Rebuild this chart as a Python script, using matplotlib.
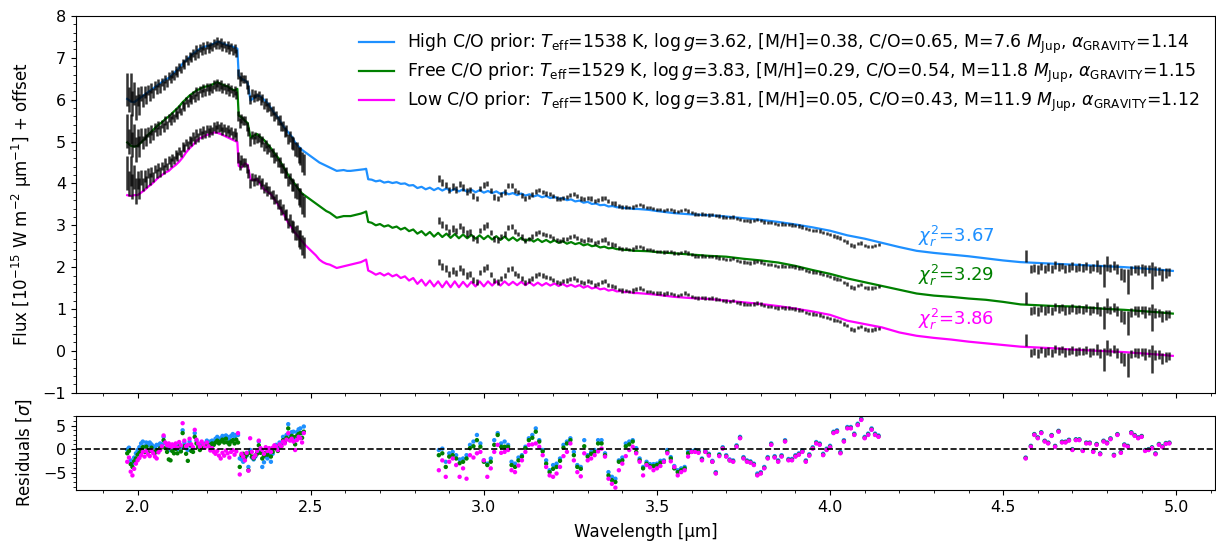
import numpy as np
import matplotlib
matplotlib.use('Agg')
import matplotlib.pyplot as plt
from matplotlib.ticker import MultipleLocator

plt.rcParams['font.size'] = 12
plt.rcParams['xtick.labelsize'] = 11.5
plt.rcParams['ytick.labelsize'] = 11.5

# model spectra (flux in 1e-15 W m-2 um-1, no offset)
wl_model = [1.970, 1.980, 1.990, 2.000, 2.010, 2.020, 2.030, 2.040, 2.050, 2.060,
            2.070, 2.080, 2.090, 2.100, 2.110, 2.120, 2.130, 2.140, 2.150, 2.160,
            2.170, 2.180, 2.190, 2.200, 2.210, 2.220, 2.230, 2.240, 2.250, 2.260,
            2.270, 2.280, 2.288,
            2.292, 2.300, 2.310, 2.318, 2.326, 2.335, 2.345, 2.355, 2.365, 2.375,
            2.385, 2.395, 2.405, 2.415, 2.425, 2.435, 2.445, 2.455, 2.465, 2.475,
            2.485, 2.495, 2.505, 2.515, 2.525, 2.535, 2.545, 2.555, 2.565, 2.575,
            2.585, 2.595, 2.605, 2.615, 2.625, 2.635, 2.645, 2.655, 2.660, 2.666,
            2.676, 2.688, 2.700, 2.712, 2.724, 2.736, 2.748, 2.760, 2.772, 2.784,
            2.796, 2.808, 2.820, 2.832, 2.844, 2.856, 2.868, 2.880, 2.892, 2.904,
            2.916, 2.928, 2.940, 2.952, 2.964, 2.976, 2.988, 3.000, 3.012, 3.024,
            3.036, 3.048, 3.060, 3.072, 3.084, 3.096, 3.108, 3.120, 3.132, 3.144,
            3.156, 3.168, 3.180, 3.192, 3.204, 3.216, 3.228, 3.240, 3.252, 3.264,
            3.276, 3.288, 3.300, 3.312, 3.324, 3.336, 3.348, 3.360, 3.372, 3.384,
            3.396, 3.408, 3.420, 3.432, 3.444,
            3.475, 3.500, 3.550, 3.600, 3.650, 3.700, 3.750, 3.800, 3.850, 3.900,
            3.950, 4.000, 4.050, 4.100, 4.150, 4.200, 4.250, 4.300, 4.350, 4.400,
            4.450, 4.500, 4.550, 4.600, 4.650, 4.700, 4.750, 4.800, 4.850, 4.900,
            4.950, 4.990]

model_high = [4.02, 3.96, 3.94, 4.00, 4.06, 4.12, 4.18, 4.24, 4.30, 4.36,
              4.42, 4.48, 4.52, 4.60, 4.68, 4.76, 4.86, 4.94, 5.02, 5.10,
              5.16, 5.22, 5.26, 5.28, 5.30, 5.34, 5.39, 5.36, 5.33, 5.30,
              5.28, 5.25, 5.22,
              4.58, 4.50, 4.46, 4.40, 3.98, 4.04, 4.10, 4.08, 4.00, 3.92,
              3.80, 3.68, 3.58, 3.44, 3.32, 3.22, 3.12, 2.98, 2.88, 2.80,
              2.74, 2.68, 2.62, 2.56, 2.50, 2.46, 2.42, 2.38, 2.34, 2.30,
              2.31, 2.32, 2.30, 2.30, 2.31, 2.32, 2.33, 2.34, 2.35, 2.10,
              2.09, 2.05, 2.07, 2.02, 2.04, 2.01, 2.03, 1.99, 2.00, 1.95,
              1.96, 1.89, 1.92, 1.86, 1.90, 1.84, 1.89, 1.83, 1.88, 1.82,
              1.87, 1.81, 1.86, 1.80, 1.85, 1.79, 1.84, 1.78, 1.82, 1.77,
              1.81, 1.75, 1.79, 1.74, 1.77, 1.72, 1.76, 1.71, 1.74, 1.69,
              1.72, 1.67, 1.70, 1.65, 1.68, 1.63, 1.65, 1.60, 1.62, 1.57,
              1.59, 1.54, 1.56, 1.51, 1.52, 1.48, 1.49, 1.45, 1.46, 1.43,
              1.43, 1.41, 1.41, 1.39, 1.39,
              1.37, 1.34, 1.29, 1.26, 1.24, 1.21, 1.17, 1.13, 1.08, 1.02,
              0.95, 0.87, 0.76, 0.68, 0.58, 0.48, 0.39, 0.34, 0.30, 0.26,
              0.21, 0.16, 0.12, 0.10, 0.08, 0.06, 0.04, 0.02, 0.00, -0.03,
              -0.06, -0.09]

model_free = [3.98, 3.90, 3.88, 3.90, 3.98, 4.06, 4.16, 4.24, 4.32, 4.40,
              4.46, 4.54, 4.60, 4.68, 4.76, 4.84, 4.94, 5.02, 5.10, 5.16,
              5.22, 5.26, 5.30, 5.32, 5.34, 5.38, 5.42, 5.38, 5.34, 5.32,
              5.26, 5.22, 5.26,
              4.62, 4.58, 4.50, 4.44, 4.10, 4.14, 4.18, 4.10, 4.04, 3.94,
              3.84, 3.72, 3.62, 3.48, 3.34, 3.20, 3.08, 2.98, 2.86, 2.76,
              2.70, 2.64, 2.58, 2.52, 2.46, 2.40, 2.34, 2.30, 2.24, 2.18,
              2.20, 2.22, 2.22, 2.22, 2.24, 2.26, 2.28, 2.31, 2.33, 2.08,
              2.06, 2.00, 2.03, 1.97, 2.00, 1.94, 1.97, 1.90, 1.94, 1.86,
              1.90, 1.80, 1.86, 1.76, 1.84, 1.73, 1.82, 1.72, 1.80, 1.70,
              1.79, 1.69, 1.78, 1.69, 1.77, 1.68, 1.76, 1.67, 1.75, 1.66,
              1.74, 1.65, 1.73, 1.64, 1.71, 1.63, 1.70, 1.62, 1.68, 1.61,
              1.67, 1.60, 1.65, 1.59, 1.64, 1.58, 1.62, 1.56, 1.60, 1.55,
              1.58, 1.52, 1.55, 1.50, 1.52, 1.47, 1.49, 1.45, 1.46, 1.43,
              1.43, 1.41, 1.41, 1.39, 1.39,
              1.38, 1.36, 1.33, 1.30, 1.27, 1.25, 1.20, 1.16, 1.11, 1.03,
              0.93, 0.84, 0.73, 0.64, 0.55, 0.46, 0.37, 0.32, 0.29, 0.25,
              0.22, 0.17, 0.11, 0.09, 0.07, 0.06, 0.03, 0.00, -0.02, -0.05,
              -0.08, -0.11]

model_low = [3.72, 3.70, 3.72, 3.72, 3.78, 3.84, 3.92, 3.98, 4.06, 4.14,
             4.20, 4.26, 4.30, 4.38, 4.44, 4.52, 4.62, 4.74, 4.84, 4.92,
             5.02, 5.08, 5.12, 5.16, 5.18, 5.22, 5.21, 5.18, 5.14, 5.10,
             5.06, 5.02, 4.99,
             4.42, 4.38, 4.48, 4.44, 4.10, 4.08, 4.10, 3.98, 3.86, 3.80,
             3.74, 3.62, 3.50, 3.36, 3.22, 3.06, 2.94, 2.82, 2.72, 2.62,
             2.52, 2.44, 2.36, 2.28, 2.18, 2.12, 2.08, 2.06, 2.02, 1.98,
             2.00, 2.02, 2.04, 2.06, 2.08, 2.10, 2.12, 2.16, 2.18, 1.92,
             1.88, 1.82, 1.86, 1.80, 1.85, 1.78, 1.82, 1.74, 1.78, 1.68,
             1.74, 1.60, 1.70, 1.56, 1.68, 1.54, 1.66, 1.52, 1.66, 1.52,
             1.66, 1.52, 1.65, 1.53, 1.65, 1.54, 1.66, 1.54, 1.66, 1.56,
             1.66, 1.56, 1.66, 1.57, 1.65, 1.57, 1.65, 1.57, 1.64, 1.56,
             1.63, 1.56, 1.62, 1.56, 1.61, 1.55, 1.60, 1.54, 1.58, 1.53,
             1.57, 1.51, 1.55, 1.49, 1.52, 1.47, 1.49, 1.44, 1.46, 1.42,
             1.43, 1.40, 1.41, 1.38, 1.38,
             1.36, 1.34, 1.29, 1.26, 1.24, 1.20, 1.16, 1.12, 1.07, 1.01,
             0.94, 0.86, 0.72, 0.64, 0.56, 0.44, 0.36, 0.31, 0.27, 0.22,
             0.18, 0.14, 0.10, 0.08, 0.06, 0.03, 0.01, -0.01, -0.03, -0.06,
             -0.09, -0.12]

# K band data (GRAVITY)
wl_k = [1.970, 1.975, 1.980, 1.985, 1.990, 1.995, 2.000, 2.005, 2.010, 2.015,
        2.020, 2.025, 2.030, 2.035, 2.040, 2.045, 2.050, 2.055, 2.060, 2.065,
        2.070, 2.075, 2.080, 2.085, 2.090, 2.095, 2.100, 2.105, 2.110, 2.115,
        2.120, 2.125, 2.130, 2.135, 2.140, 2.145, 2.150, 2.155, 2.160, 2.165,
        2.170, 2.175, 2.180, 2.185, 2.190, 2.195, 2.200, 2.205, 2.210, 2.215,
        2.220, 2.225, 2.230, 2.235, 2.240, 2.245, 2.250, 2.255, 2.260, 2.265,
        2.270, 2.275, 2.280, 2.285, 2.290, 2.295, 2.300, 2.305, 2.310, 2.315,
        2.320, 2.325, 2.330, 2.335, 2.340, 2.345, 2.350, 2.355, 2.360, 2.365,
        2.370, 2.375, 2.380, 2.385, 2.390, 2.395, 2.400, 2.405, 2.410, 2.415,
        2.420, 2.425, 2.430, 2.435, 2.440, 2.445, 2.450, 2.455, 2.460, 2.465,
        2.470, 2.475, 2.480]
flux_k = [4.25, 4.00, 4.30, 3.92, 4.15, 3.82, 4.08, 3.88, 4.14, 3.98,
          4.18, 4.04, 4.24, 4.10, 4.28, 4.16, 4.34, 4.24, 4.40, 4.28,
          4.42, 4.34, 4.50, 4.40, 4.56, 4.50, 4.62, 4.56, 4.70, 4.64,
          4.78, 4.72, 4.88, 4.84, 4.98, 4.92, 5.04, 5.00, 5.12, 5.04,
          5.20, 5.10, 5.24, 5.16, 5.28, 5.18, 5.30, 5.22, 5.30, 5.26,
          5.36, 5.30, 5.40, 5.32, 5.36, 5.26, 5.32, 5.24, 5.30, 5.20,
          5.26, 5.16, 5.22, 5.12, 4.62, 4.44, 4.56, 4.50, 4.50, 4.36,
          4.24, 4.00, 4.16, 4.04, 4.14, 4.06, 4.10, 3.98, 4.04, 3.88,
          3.94, 3.82, 3.84, 3.72, 3.74, 3.60, 3.64, 3.50, 3.52, 3.36,
          3.38, 3.24, 3.26, 3.06, 3.12, 2.98, 2.96, 2.82, 2.82, 2.68,
          2.66, 2.52, 2.46]
err_k = [0.40, 0.30, 0.35, 0.30, 0.28, 0.30, 0.22, 0.25, 0.18, 0.15,
         0.15, 0.14, 0.12, 0.14, 0.12, 0.12, 0.10, 0.11, 0.10, 0.12,
         0.10, 0.11, 0.10, 0.09, 0.10, 0.10, 0.09, 0.10, 0.11, 0.10,
         0.10, 0.09, 0.10, 0.10, 0.09, 0.10, 0.10, 0.11, 0.10, 0.09,
         0.10, 0.10, 0.09, 0.10, 0.10, 0.09, 0.10, 0.10, 0.09, 0.10,
         0.10, 0.09, 0.10, 0.10, 0.11, 0.10, 0.09, 0.10, 0.10, 0.10,
         0.10, 0.09, 0.10, 0.10, 0.12, 0.12, 0.11, 0.10, 0.10, 0.11,
         0.10, 0.11, 0.10, 0.10, 0.09, 0.10, 0.10, 0.11, 0.10, 0.10,
         0.10, 0.11, 0.10, 0.10, 0.11, 0.10, 0.10, 0.11, 0.12, 0.11,
         0.12, 0.12, 0.13, 0.12, 0.14, 0.15, 0.15, 0.16, 0.18, 0.20,
         0.22, 0.24, 0.25]

# L band data
wl_l = [2.870, 2.880, 2.890, 2.900, 2.910, 2.920, 2.930, 2.940, 2.950, 2.960,
        2.970, 2.980, 2.990, 3.000, 3.010, 3.020, 3.030, 3.040, 3.050, 3.060,
        3.070, 3.080, 3.090, 3.100, 3.110, 3.120, 3.130, 3.140, 3.150, 3.160,
        3.170, 3.180, 3.190, 3.200, 3.210, 3.220, 3.230, 3.240, 3.250, 3.260,
        3.270, 3.280, 3.290, 3.300, 3.310, 3.320, 3.330, 3.340, 3.350, 3.360,
        3.370, 3.380, 3.390, 3.400, 3.410, 3.420, 3.430, 3.440, 3.450, 3.460,
        3.470, 3.480, 3.490, 3.500, 3.510, 3.520, 3.530, 3.540, 3.550, 3.560,
        3.570, 3.580, 3.590, 3.600, 3.610, 3.620, 3.630, 3.640, 3.650, 3.660,
        3.670, 3.680, 3.690, 3.700, 3.710, 3.720, 3.730, 3.740, 3.750, 3.760,
        3.770, 3.780, 3.790, 3.800, 3.810, 3.820, 3.830, 3.840, 3.850, 3.860,
        3.870, 3.880, 3.890, 3.900, 3.910, 3.920, 3.930, 3.940, 3.950, 3.960,
        3.970, 3.980, 3.990, 4.000, 4.010, 4.020, 4.030, 4.040, 4.050, 4.060,
        4.070, 4.080, 4.090, 4.100, 4.110, 4.120, 4.130, 4.140]
flux_l = [2.12, 2.02, 1.96, 1.84, 1.92, 1.86, 1.98, 1.90, 1.80, 1.84,
          1.70, 1.64, 1.88, 1.96, 2.00, 1.82, 1.68, 1.64, 1.74, 1.80,
          1.94, 1.96, 1.84, 1.80, 1.72, 1.64, 1.68, 1.74, 1.80, 1.84,
          1.80, 1.76, 1.74, 1.70, 1.64, 1.62, 1.66, 1.68, 1.72, 1.74,
          1.70, 1.64, 1.62, 1.66, 1.64, 1.58, 1.60, 1.64, 1.66, 1.58,
          1.54, 1.52, 1.46, 1.44, 1.44, 1.42, 1.44, 1.48, 1.50, 1.46,
          1.42, 1.42, 1.40, 1.38, 1.38, 1.36, 1.38, 1.37, 1.34, 1.33,
          1.35, 1.38, 1.34, 1.30, 1.27, 1.26, 1.27, 1.26, 1.25, 1.26,
          1.24, 1.22, 1.20, 1.19, 1.18, 1.20, 1.16, 1.14, 1.12, 1.11,
          1.10, 1.12, 1.14, 1.12, 1.08, 1.06, 1.06, 1.04, 1.02, 1.03,
          1.02, 1.02, 1.01, 1.00, 0.98, 0.96, 0.92, 0.90, 0.88, 0.87,
          0.86, 0.82, 0.80, 0.78, 0.74, 0.72, 0.70, 0.64, 0.60, 0.52,
          0.50, 0.56, 0.58, 0.52, 0.50, 0.50, 0.52, 0.54]
err_l = [0.08, 0.08, 0.08, 0.07, 0.08, 0.08, 0.07, 0.08, 0.08, 0.07,
         0.07, 0.07, 0.06, 0.07, 0.07, 0.06, 0.07, 0.07, 0.06, 0.07,
         0.06, 0.06, 0.06, 0.05, 0.06, 0.06, 0.05, 0.06, 0.06, 0.05,
         0.05, 0.05, 0.05, 0.05, 0.05, 0.05, 0.05, 0.05, 0.05, 0.05,
         0.05, 0.05, 0.05, 0.05, 0.05, 0.05, 0.05, 0.05, 0.05, 0.05,
         0.05, 0.05, 0.04, 0.05, 0.04, 0.04, 0.05, 0.04, 0.04, 0.04,
         0.04, 0.04, 0.04, 0.04, 0.04, 0.04, 0.04, 0.04, 0.04, 0.04,
         0.04, 0.04, 0.04, 0.04, 0.04, 0.04, 0.04, 0.04, 0.04, 0.04,
         0.04, 0.04, 0.04, 0.04, 0.04, 0.04, 0.04, 0.04, 0.04, 0.04,
         0.04, 0.04, 0.04, 0.04, 0.04, 0.04, 0.04, 0.04, 0.04, 0.04,
         0.04, 0.04, 0.04, 0.04, 0.04, 0.04, 0.04, 0.04, 0.04, 0.04,
         0.04, 0.04, 0.04, 0.04, 0.04, 0.04, 0.04, 0.04, 0.04, 0.05,
         0.05, 0.04, 0.04, 0.04, 0.04, 0.04, 0.04, 0.04]

# M band data
wl_m = [4.565, 4.580, 4.590, 4.600, 4.610, 4.620, 4.630, 4.640, 4.650, 4.660,
        4.670, 4.680, 4.690, 4.700, 4.710, 4.720, 4.730, 4.740, 4.750, 4.760,
        4.770, 4.780, 4.790, 4.800, 4.810, 4.820, 4.830, 4.840, 4.850, 4.860,
        4.870, 4.880, 4.890, 4.900, 4.910, 4.920, 4.930, 4.940, 4.950, 4.960,
        4.970, 4.980]
flux_m = [0.26, -0.05, -0.02, -0.06, 0.02, -0.04, 0.00, -0.05, 0.05, 0.00,
          0.03, -0.04, -0.02, 0.02, -0.03, 0.00, -0.02, 0.02, -0.04, -0.01,
          0.03, -0.06, -0.20, 0.08, -0.02, 0.04, -0.05, -0.16, -0.20, -0.34,
          -0.08, -0.04, -0.06, -0.03, -0.08, -0.05, -0.20, -0.10, -0.09, -0.18,
          -0.14, -0.12]
err_m = [0.14, 0.10, 0.09, 0.10, 0.08, 0.10, 0.09, 0.10, 0.09, 0.10,
         0.08, 0.10, 0.09, 0.10, 0.09, 0.10, 0.09, 0.10, 0.10, 0.09,
         0.14, 0.10, 0.28, 0.18, 0.10, 0.10, 0.12, 0.14, 0.16, 0.29,
         0.10, 0.10, 0.12, 0.10, 0.14, 0.10, 0.33, 0.12, 0.10, 0.14,
         0.12, 0.10]

# residuals in sigma, per band and model
res_k_high = [-0.1, 0.3, -2.4, -3.1, -1.8, -0.9, -0.2, 0.4, 1.2, 1.6,
              0.6, 1.4, 0.8, 1.4, 1.0, 0.6, 0.4, 0.9, 0.8, 1.2,
              1.0, 2.6, 1.2, 0.4, 0.5, -0.2, 0.8, 0.2, 0.5, 0.0,
              1.0, 0.4, 4.0, 1.4, 0.2, -0.2, 1.6, 0.6, 0.2, 3.4,
              1.8, 1.0, 0.6, 1.2, 1.0, 1.2, 1.8, 1.4, 1.6, 1.8,
              1.6, 2.2, 2.6, 2.0, 2.3, 2.8, 2.2, 2.9, 2.6, 2.0,
              2.8, 3.2, 2.4, 3.0, 3.0, -2.0, -2.2, -2.7, -2.0, -1.4,
              -3.8, -0.2, -1.8, -2.2, -1.6, -0.8, 1.6, -0.6, -3.8, -2.8,
              -1.6, -2.0, -1.2, -2.7, -1.0, 0.4, 0.9, 0.2, 1.4, 1.2,
              2.6, 2.0, 3.0, 5.3, 3.0, 3.6, 3.7, 2.0, 3.6, 4.2,
              4.4, 3.4, 4.8]
res_k_free = [-0.9, -0.4, -3.2, -3.8, -2.6, -2.0, -1.2, -0.8, -0.2, 0.4,
              -0.6, 0.5, -0.2, -0.4, 0.3, -0.5, -0.8, -0.2, -0.4, 0.2,
              0.4, 1.9, 0.2, -0.6, -2.2, -2.4, -0.4, -0.9, 0.0, -0.9,
              0.5, -0.5, 3.4, 0.6, -1.0, -2.5, 0.8, -0.4, -0.6, 2.6,
              1.2, 0.4, -0.2, 0.5, 0.4, 0.6, 1.2, 0.8, 0.9, 1.2,
              0.9, 1.4, 1.8, 1.2, 1.6, 2.0, 1.4, 2.2, 1.4, 1.0,
              1.6, 1.9, 1.2, 2.0, 1.4, -3.8, -1.3, -1.0, -1.8, -1.2,
              -4.5, -0.8, -1.6, -2.0, -1.4, -1.0, 0.8, -0.8, -2.0, -1.4,
              -0.8, -1.2, -0.4, -1.6, -0.6, 0.2, 0.1, -0.4, 0.8, 0.6,
              1.9, 1.4, 2.4, 4.4, 2.2, 2.8, 2.6, 1.0, 2.8, 3.2,
              3.4, 2.4, 3.7]
res_k_low = [-2.7, -1.8, -4.8, -5.6, -4.2, -3.1, -2.4, -1.9, -1.3, -0.6,
             -1.6, -0.4, -1.1, -1.5, -0.3, -0.9, -1.6, -2.0, -0.7, -0.2,
             0.6, 2.9, 1.4, 0.8, 1.2, 0.4, 1.0, 0.6, 1.2, 0.3,
             1.5, 0.8, 5.5, 1.8, 0.6, 0.9, 2.2, 1.0, 0.4, 4.1,
             2.0, 1.2, 0.5, 1.6, 1.0, 0.3, 1.4, 0.6, -0.3, 0.2,
             -0.6, -1.0, -0.4, -1.4, -2.0, -0.8, -1.4, -0.3, -0.9, -1.8,
             -0.6, -0.2, -1.2, -0.5, 3.4, -5.4, -1.0, -1.6, -2.4, -0.8,
             -4.6, 2.3, -0.6, -1.8, -1.3, -0.4, 1.8, 0.2, -0.2, -1.0,
             0.4, -0.4, 0.2, -0.6, 0.3, 0.8, 0.5, -0.2, 1.0, 0.6,
             1.6, 1.2, 2.0, 3.4, 1.8, 2.2, 1.6, -0.2, 1.9, 2.6,
             2.3, 1.4, 3.4]

res_l_high = [-0.2, 0.1, -2.7, -0.9, -0.6, -1.3, -2.2, -2.0, -1.3, 0.9,
              1.6, 3.0, 1.2, -2.4, -3.1, -2.0, 1.9, 3.4, 1.2, 1.6,
              0.9, -2.7, -3.1, -1.8, -1.3, 0.5, 2.3, 3.0, 4.4, 1.9,
              -0.2, -2.4, -4.5, -3.4, -3.1, -2.0, 0.9, 1.6, 2.3, -0.6,
              -3.4, -3.8, 1.9, -1.3, -0.6, -0.2, 1.9, 1.9, -0.9, -4.9,
              -5.9, -6.3, -2.4, -1.8, 1.2, 1.6, 1.9, 0.2, -2.0, -3.8,
              -2.7, -3.2, -3.2, -3.1, -2.5, -2.4, -0.2, -1.7, -3.6, -4.5,
              -4.1, -3.8, -0.6, -0.4, -0.2, -0.4, -2.0, -0.4, -1.0, -2.5,
              -4.9, -1.1, 0.4, -1.3, -2.2, -2.4, 0.8, 2.6, -1.7, -2.4,
              -2.6, -3.1, -5.2, -4.9, -3.8, -1.7, 1.2, -1.5, -2.4, -1.3,
              1.9, -2.1, -2.1, -1.3, -0.9, -0.3, -2.4, -1.1, 0.4, 1.5,
              1.2, -1.0, 0.1, 0.7, 3.7, 4.0, -0.6, 1.9, 4.7, 4.7,
              3.3, 5.4, 6.5, 2.6, 3.3, 4.4, 3.3, 2.9]
res_l_free = [-1.3, -0.9, -3.8, -1.6, -1.3, -2.0, -3.0, -2.7, -2.0, 0.2,
              0.6, 1.9, 0.5, -2.7, -3.4, -2.7, 0.9, 3.0, 0.5, 0.5,
              0.5, -3.4, -3.8, -2.4, -1.6, 0.2, 1.9, 2.4, 3.7, 1.6,
              -0.5, -3.1, -4.9, -4.2, -3.8, -2.5, 0.3, 1.2, 1.9, -1.3,
              -3.8, -4.2, 0.6, -1.6, -1.0, -0.6, 1.2, 1.2, -1.3, -5.6,
              -6.6, -7.0, -2.7, -2.4, 0.6, 1.0, 1.6, -0.6, -2.4, -4.1,
              -3.1, -3.6, -3.6, -3.4, -2.9, -2.7, -0.6, -2.0, -4.1, -4.9,
              -4.5, -4.1, -0.9, -0.6, -0.4, -0.6, -2.2, -0.6, -1.2, -2.7,
              -5.1, -1.3, 0.2, -1.5, -2.4, -2.6, 0.6, 2.4, -1.9, -2.6,
              -2.8, -3.3, -5.5, -5.1, -4.0, -1.9, 1.0, -1.7, -2.6, -1.5,
              1.7, -2.3, -2.3, -1.5, -1.1, -0.5, -2.6, -1.3, 0.2, 1.3,
              1.0, -1.2, -0.1, 0.5, 3.5, 3.8, -0.8, 1.7, 4.5, 4.5,
              3.1, 5.2, 6.3, 2.4, 3.1, 4.2, 3.1, 2.7]
res_l_low = [-4.5, -2.4, -5.9, -2.7, -2.0, -3.4, -5.9, -4.1, -6.3, -1.3,
             -1.8, -0.9, -0.6, -2.4, -5.9, -4.1, -0.6, 0.9, -0.8, -0.6,
             -0.2, -4.5, -4.9, -3.5, -2.4, -0.6, 0.9, 1.0, 1.2, 0.5,
             -1.3, -3.8, -5.6, -5.9, -5.2, -3.8, -1.5, -0.6, 1.2, -2.4,
             -4.9, -5.8, -0.9, -2.4, -2.0, -1.3, -0.5, 0.1, -1.6, -6.3,
             -7.4, -8.2, -4.5, -3.1, -1.5, -0.2, 0.5, -0.9, -2.7, -5.6,
             -3.4, -3.9, -4.5, -4.1, -3.6, -2.7, -0.9, -2.6, -3.8, -5.6,
             -4.9, -4.5, -1.6, -0.6, -0.6, -0.8, -2.4, -0.6, -1.4, -2.7,
             -5.2, -1.5, 0.1, -1.6, -2.4, -2.7, 0.5, 2.3, -2.0, -2.7,
             -2.9, -3.4, -5.6, -5.2, -4.1, -2.0, 0.9, -1.8, -2.7, -1.6,
             1.6, -2.4, -2.4, -1.6, -1.2, -0.6, -2.7, -1.4, 0.1, 1.2,
             0.9, -1.3, -0.2, 0.4, 3.4, 3.7, -0.9, 1.6, 4.4, 4.4,
             3.0, 5.1, 6.2, 2.3, 3.0, 4.1, 3.0, 2.6]

res_m_high = [-1.8, 0.7, 3.2, 2.5, 3.6, 1.8, 1.4, 3.0, 0.7, 3.9,
              1.6, 1.6, 2.0, 0.0, 2.1, 2.1, -0.2, 1.4, 1.4, -0.4,
              1.1, -0.9, 1.8, 1.4, 2.3, -1.2, 3.2, -0.6, 1.0, 0.7,
              3.6, 3.0, 2.5, 2.8, -0.2, 0.0, 0.4, -0.9, 1.1, 0.6,
              1.3, 1.4]
res_m_free = [-1.9, 0.6, 3.1, 2.4, 3.5, 1.7, 1.3, 2.9, 0.6, 3.8,
              1.5, 1.5, 1.9, -0.1, 2.0, 2.0, -0.3, 1.3, 1.3, -0.5,
              1.0, -1.0, 1.7, 1.3, 2.2, -1.3, 3.1, -0.7, 0.9, 0.6,
              3.5, 2.9, 2.4, 2.7, -0.3, -0.1, 0.3, -1.0, 1.0, 0.5,
              1.2, 1.3]
res_m_low = [-2.0, 0.5, 3.0, 2.3, 3.4, 1.6, 1.2, 2.8, 0.5, 3.7,
             1.4, 1.4, 1.8, -0.2, 1.9, 1.9, -0.4, 1.2, 1.2, -0.6,
             0.9, -1.1, 1.6, 1.2, 2.1, -1.4, 3.0, -0.8, 0.8, 0.5,
             3.4, 2.8, 2.3, 2.6, -0.4, -0.2, 0.2, -1.1, 0.9, 0.4,
             1.1, 1.2]

labels = [r'High C/O prior: $T_\mathrm{eff}$=1538 K, $\log g$=3.62, [M/H]=0.38, C/O=0.65, M=7.6 $M_\mathrm{Jup}$, $\alpha_\mathrm{GRAVITY}$=1.14',
          r'Free C/O prior: $T_\mathrm{eff}$=1529 K, $\log g$=3.83, [M/H]=0.29, C/O=0.54, M=11.8 $M_\mathrm{Jup}$, $\alpha_\mathrm{GRAVITY}$=1.15',
          r'Low C/O prior:  $T_\mathrm{eff}$=1500 K, $\log g$=3.81, [M/H]=0.05, C/O=0.43, M=11.9 $M_\mathrm{Jup}$, $\alpha_\mathrm{GRAVITY}$=1.12']
chi2 = ['3.67', '3.29', '3.86']
colors = ['dodgerblue', 'green', 'magenta']
offsets = [2, 1, 0]
models = [model_high, model_free, model_low]
res_all = [(res_k_high, res_l_high, res_m_high),
           (res_k_free, res_l_free, res_m_free),
           (res_k_low, res_l_low, res_m_low)]

wl_data = np.concatenate([wl_k, wl_l, wl_m])
flux_data = np.concatenate([flux_k, flux_l, flux_m])
err_data = np.concatenate([err_k, err_l, err_m])

fig = plt.figure(figsize=(12.16, 5.41), dpi=100)
ax = fig.add_axes([0.0625, 0.2741, 0.937, 0.6963])
axr = fig.add_axes([0.0625, 0.0943, 0.937, 0.1373], sharex=ax)

for model, off, c, lab in zip(models, offsets, colors, labels):
    ax.plot(wl_model, np.array(model) + off, color=c, lw=1.6, label=lab)

for off in offsets:
    ax.errorbar(wl_data, flux_data + off, yerr=err_data, fmt='none', ecolor='k',
                elinewidth=1.8, alpha=0.8, zorder=3)

chi_y = [2.73, 1.80, 0.74]
for c, t, yy in zip(colors, chi2, chi_y):
    ax.text(4.253, yy, r'$\chi^2_r$=' + t, color=c, fontsize=13, ha='left', va='center')

ax.legend(loc='upper right', frameon=False, fontsize=12.4, labelspacing=0.3)
ax.set_ylim(-1, 8)
ax.set_xlim(1.822, 5.113)
ax.set_ylabel('Flux [$10^{-15}$ W m$^{-2}$ µm$^{-1}$] + offset')
ax.yaxis.set_major_locator(MultipleLocator(1))
ax.yaxis.set_minor_locator(MultipleLocator(0.2))
ax.xaxis.set_major_locator(MultipleLocator(0.5))
ax.xaxis.set_minor_locator(MultipleLocator(0.1))
ax.tick_params(labelbottom=False)

for (rk, rl, rm), c in zip(res_all, colors):
    axr.scatter(np.concatenate([wl_k, wl_l, wl_m]), np.concatenate([rk, rl, rm]),
                s=10, color=c, edgecolors='none', zorder=2)
axr.axhline(0, color='k', ls='--', lw=1.2, zorder=3)
axr.set_ylim(-8.7, 7.1)
axr.yaxis.set_major_locator(MultipleLocator(5))
axr.yaxis.set_minor_locator(MultipleLocator(1))
axr.set_ylabel(r'Residuals [$\sigma$]')
axr.set_xlabel('Wavelength [µm]', labelpad=6)

ax.yaxis.set_label_coords(-0.037, 0.5)
axr.yaxis.set_label_coords(-0.037, 0.5)

fig.savefig('out.png', dpi=100)
